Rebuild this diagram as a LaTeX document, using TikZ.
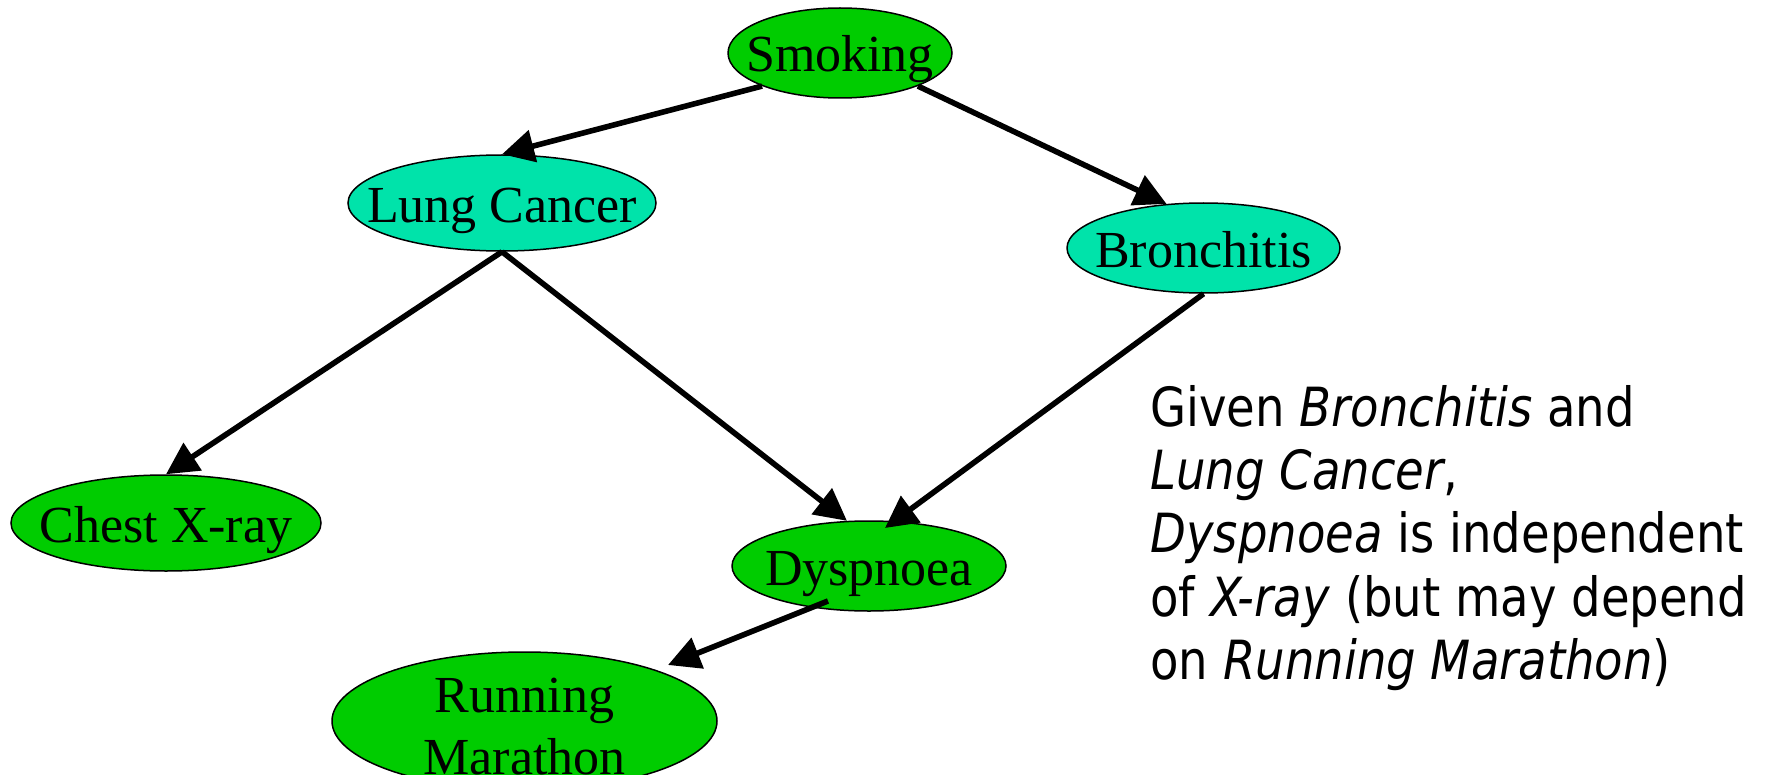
\documentclass[tikz,border=0pt]{standalone}
\usepackage{fontspec}
\setmainfont{Liberation Serif}
\newfontfamily\notefont{DejaVu Sans}[FakeStretch=0.862]
\usetikzlibrary{arrows.meta,calc,shapes.geometric}
\definecolor{nodegreen}{RGB}{0,204,0}
\definecolor{nodeteal}{RGB}{0,227,170}
\begin{document}
\begin{tikzpicture}[x=0.5pt,y=-0.5pt,
  bubble/.style={ellipse, draw=black, line width=0.75pt, inner sep=0pt},
  greenbubble/.style={bubble, fill=nodegreen},
  tealbubble/.style={bubble, fill=nodeteal},
  lbl/.style={font=\fontsize{26}{31}\selectfont, text height=24pt, text depth=5pt, inner sep=0pt},
  lbltwo/.style={font=\fontsize{26}{31}\selectfont, align=center, inner sep=0pt, yshift=-3pt},
  link/.style={line width=2.8pt, -{Triangle[length=16pt,width=16pt]}}
]
\useasboundingbox (0,0) rectangle (1770,775);
\clip (0,0) rectangle (1770,775);

% network nodes
\node[greenbubble, minimum width=112pt, minimum height=45pt,
      label={[lbl]center:Smoking}] (smoking) at (840,53) {};
\node[tealbubble, minimum width=154pt, minimum height=48pt,
      label={[lbl]center:Lung Cancer}] (lung) at (502,203) {};
\node[tealbubble, minimum width=136.5pt, minimum height=45pt,
      label={[lbl]center:Bronchitis}] (bron) at (1203.5,248) {};
\node[greenbubble, minimum width=155pt, minimum height=48pt,
      label={[lbl]center:Chest X-ray}] (chest) at (166,523) {};
\node[greenbubble, minimum width=137pt, minimum height=45pt,
      label={[lbl]center:Dyspnoea}] (dysp) at (869,566) {};
\node[greenbubble, minimum width=192.5pt, minimum height=69pt,
      label={[lbltwo]center:{Running\\Marathon}}] (run) at (524.5,721) {};

% dependencies
\draw[link] (smoking.203) -- (lung.north);
\draw[link] (smoking.337) -- (bron.130);
\draw[link] (lung.south) -- (chest.north);
\draw[link] (lung.south) -- (dysp.116);
\draw[link] (bron.south) -- ($(dysp)+(16,-38)$);
\draw[link] ($(dysp)+(-41,35)$) -- ($(run)+(143.5,-56)$);

% explanatory note
\node[anchor=north west, align=left, inner sep=0pt,
      font=\notefont\fontsize{27}{31.6}\selectfont] (note) at (1150,385)
  {Given \textit{Bronchitis} and\\
   \textit{Lung Cancer},\\
   \textit{Dyspnoea} is independent\\
   of \textit{X-ray} (but may depend\\
   on \textit{Running Marathon})};
\end{tikzpicture}
\end{document}
